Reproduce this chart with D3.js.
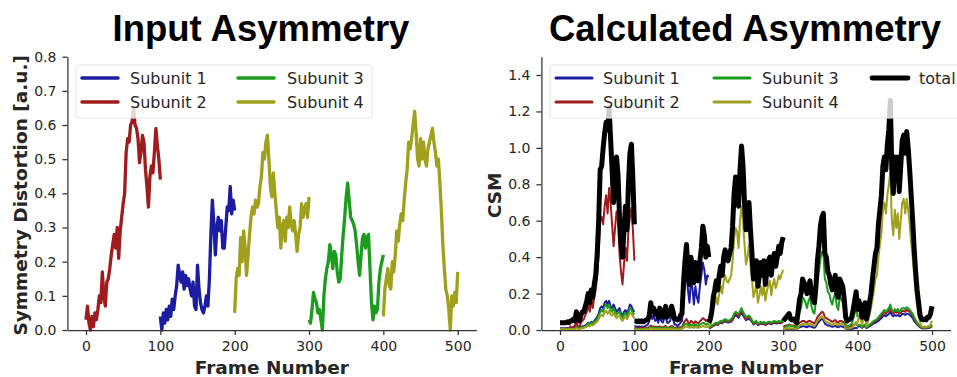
<!DOCTYPE html>
<html><head><meta charset="utf-8">
<script src="https://cdn.jsdelivr.net/npm/d3@7"></script>
<style>body{margin:0;background:#fff}svg{display:block}</style>
</head><body>
<svg id="c" width="957" height="377"></svg>
<script>
// ---------- DATA ----------
const frameStep = 2;            // frames between samples
const segmentStarts = [0, 100, 200, 300, 400];
const xTicks = [0, 100, 200, 300, 400, 500];
const yTicksInput = [0, 0.1, 0.2, 0.3, 0.4, 0.5, 0.6, 0.7, 0.8];
const yTicksCSM = [0, 0.2, 0.4, 0.6, 0.8, 1.0, 1.2, 1.4];
const seriesNames = ["Subunit 1", "Subunit 2", "Subunit 3", "Subunit 4", "total"];

// Input asymmetry (left panel)
const inputSub2 = [0.03,0.07,0.02,0.0,0.04,0.01,0.05,0.03,0.06,0.1, 0.08,0.17,0.1,0.07,0.14,0.15,0.18,0.22,0.25,0.28, 0.24,0.3,0.21,0.29,0.33,0.37,0.4,0.52,0.56,0.55, 0.6,0.61,0.65,0.6,0.59,0.56,0.49,0.52,0.57,0.55, 0.47,0.42,0.36,0.45,0.48,0.46,0.52,0.59,0.54,0.5, 0.44]; // frames 0-100
const inputSub1 = [0.04,0.0,0.05,0.02,0.06,0.03,0.07,0.04,0.09,0.06, 0.1,0.13,0.19,0.16,0.14,0.17,0.12,0.16,0.13,0.15, 0.12,0.1,0.14,0.07,0.06,0.19,0.12,0.08,0.06,0.05, 0.07,0.1,0.07,0.15,0.28,0.38,0.31,0.22,0.3,0.33, 0.29,0.32,0.24,0.24,0.3,0.36,0.35,0.42,0.34,0.38, 0.35]; // frames 100-200
const inputSub4a = [0.05,0.15,0.18,0.16,0.27,0.2,0.29,0.24,0.16,0.22, 0.28,0.33,0.36,0.34,0.38,0.36,0.37,0.42,0.45,0.52, 0.5,0.55,0.57,0.5,0.42,0.39,0.46,0.4,0.35,0.3, 0.33,0.24,0.3,0.32,0.26,0.33,0.3,0.36,0.31,0.29, 0.32,0.28,0.23,0.28,0.3,0.37,0.33,0.35,0.37,0.33, 0.39]; // frames 200-300
const inputSub3 = [0.03,0.02,0.06,0.11,0.09,0.08,0.05,0.06,0.03,0.0, 0.1,0.15,0.18,0.2,0.25,0.22,0.18,0.23,0.22,0.17, 0.14,0.15,0.22,0.28,0.33,0.39,0.43,0.38,0.33,0.32, 0.31,0.29,0.25,0.2,0.16,0.22,0.27,0.28,0.24,0.27, 0.28,0.18,0.08,0.03,0.07,0.05,0.06,0.14,0.18,0.2, 0.22]; // frames 300-400
const inputSub4b = [0.04,0.12,0.15,0.18,0.13,0.12,0.2,0.17,0.22,0.29, 0.26,0.31,0.34,0.32,0.38,0.43,0.47,0.55,0.53,0.56, 0.6,0.64,0.58,0.5,0.48,0.56,0.5,0.55,0.5,0.48, 0.53,0.55,0.57,0.59,0.55,0.52,0.48,0.5,0.43,0.35, 0.25,0.18,0.12,0.1,0.06,0.0,0.1,0.07,0.11,0.08, 0.17]; // frames 400-500

// Calculated asymmetry CSM (right panel): one list per 100-frame segment
const csmSub1 = [
 [0.01,0.01,0.01,0.01,0.01,0.01,0.01,0.01,0.01,0.01, 0.01,0.02,0.01,0.01,0.015,0.02,0.02,0.025,0.03,0.04, 0.03,0.045,0.04,0.05,0.06,0.07,0.09,0.12,0.13,0.12, 0.15,0.16,0.14,0.16,0.13,0.12,0.14,0.12,0.1,0.11, 0.12,0.09,0.08,0.1,0.11,0.09,0.11,0.14,0.13,0.11, 0.1],
 [0.02,0.02,0.015,0.02,0.015,0.02,0.015,0.02,0.025,0.03, 0.05,0.1,0.06,0.08,0.05,0.06,0.04,0.08,0.05,0.04, 0.06,0.08,0.04,0.04,0.05,0.08,0.06,0.03,0.03,0.02, 0.03,0.04,0.05,0.17,0.26,0.31,0.22,0.15,0.27,0.23, 0.14,0.24,0.18,0.15,0.24,0.3,0.37,0.33,0.25,0.3, 0.29],
 [0.008,0.012,0.017,0.022,0.027,0.031,0.027,0.036,0.04,0.036, 0.045,0.045,0.045,0.04,0.045,0.045,0.054,0.072,0.081,0.076, 0.067,0.085,0.09,0.081,0.067,0.054,0.058,0.063,0.054,0.045, 0.031,0.036,0.04,0.027,0.031,0.036,0.031,0.036,0.027,0.031, 0.036,0.036,0.031,0.036,0.04,0.036,0.036,0.04,0.036,0.04, 0.045],
 [0.005,0.005,0.005,0.005,0.008,0.005,0.005,0.005,0.005,0.005, 0.01,0.015,0.018,0.02,0.02,0.018,0.015,0.02,0.02,0.018, 0.015,0.012,0.02,0.035,0.045,0.055,0.06,0.055,0.035,0.03, 0.025,0.025,0.02,0.018,0.02,0.022,0.018,0.015,0.02,0.02, 0.018,0.015,0.008,0.005,0.005,0.006,0.006,0.008,0.01,0.012, 0.008],
 [0.015,0.022,0.018,0.012,0.018,0.022,0.01,0.015,0.02,0.025, 0.033,0.037,0.04,0.045,0.05,0.058,0.066,0.075,0.082,0.075, 0.082,0.088,0.1,0.082,0.075,0.082,0.078,0.082,0.075,0.078, 0.088,0.088,0.082,0.09,0.088,0.082,0.075,0.066,0.05,0.04, 0.03,0.022,0.015,0.011,0.008,0.011,0.008,0.011,0.011,0.015, 0.022]
];
const csmSub2 = [
 [0.005,0.005,0.005,0.005,0.005,0.01,0.005,0.02,0.01,0.02, 0.02,0.06,0.02,0.01,0.04,0.05,0.06,0.08,0.1,0.14, 0.1,0.16,0.12,0.18,0.22,0.3,0.42,0.6,0.62,0.58, 0.68,0.74,0.64,0.78,0.7,0.58,0.46,0.56,0.65,0.6, 0.42,0.32,0.25,0.36,0.45,0.38,0.55,0.62,0.67,0.55, 0.38],
 [0.01,0.01,0.01,0.01,0.01,0.01,0.01,0.01,0.01,0.012, 0.015,0.025,0.018,0.02,0.015,0.018,0.013,0.02,0.015,0.013, 0.018,0.022,0.013,0.014,0.016,0.022,0.018,0.012,0.012,0.01, 0.012,0.015,0.016,0.035,0.05,0.06,0.045,0.035,0.05,0.045, 0.035,0.048,0.04,0.036,0.048,0.055,0.065,0.06,0.05,0.056, 0.05],
 [0.01,0.015,0.02,0.025,0.03,0.035,0.03,0.04,0.045,0.04, 0.05,0.05,0.05,0.045,0.05,0.05,0.06,0.08,0.09,0.085, 0.075,0.095,0.1,0.09,0.075,0.06,0.065,0.07,0.06,0.05, 0.035,0.04,0.045,0.03,0.035,0.04,0.035,0.04,0.03,0.035, 0.04,0.04,0.035,0.04,0.045,0.04,0.04,0.045,0.04,0.045, 0.05],
 [0.02,0.02,0.025,0.025,0.03,0.025,0.025,0.025,0.02,0.02, 0.03,0.04,0.045,0.05,0.05,0.045,0.04,0.05,0.05,0.045, 0.04,0.035,0.05,0.07,0.08,0.09,0.1,0.095,0.07,0.065, 0.06,0.055,0.05,0.045,0.05,0.055,0.045,0.04,0.05,0.05, 0.045,0.04,0.02,0.015,0.015,0.02,0.02,0.025,0.03,0.035, 0.025],
 [0.02,0.028,0.022,0.014,0.022,0.028,0.012,0.018,0.026,0.03, 0.04,0.045,0.05,0.055,0.062,0.07,0.08,0.09,0.1,0.09, 0.1,0.105,0.12,0.1,0.09,0.1,0.095,0.1,0.09,0.095, 0.105,0.105,0.1,0.11,0.105,0.1,0.09,0.08,0.06,0.05, 0.035,0.026,0.018,0.013,0.01,0.013,0.01,0.013,0.013,0.018, 0.026]
];
const csmSub3 = [
 [0.005,0.005,0.005,0.005,0.005,0.005,0.005,0.005,0.005,0.005, 0.005,0.015,0.008,0.008,0.012,0.015,0.015,0.02,0.025,0.035, 0.025,0.04,0.035,0.045,0.05,0.06,0.08,0.1,0.11,0.1, 0.13,0.14,0.12,0.14,0.11,0.1,0.12,0.1,0.085,0.095, 0.1,0.075,0.065,0.085,0.095,0.075,0.095,0.12,0.11,0.095, 0.085],
 [0.006,0.006,0.006,0.006,0.006,0.006,0.006,0.006,0.007,0.008, 0.01,0.016,0.012,0.013,0.01,0.012,0.009,0.013,0.01,0.009, 0.012,0.014,0.009,0.01,0.011,0.014,0.012,0.008,0.008,0.007, 0.008,0.01,0.011,0.022,0.03,0.036,0.028,0.022,0.03,0.028, 0.022,0.03,0.025,0.022,0.03,0.034,0.04,0.037,0.03,0.034, 0.03],
 [0.01,0.015,0.025,0.03,0.035,0.04,0.035,0.045,0.05,0.045, 0.055,0.06,0.055,0.05,0.055,0.06,0.07,0.09,0.1,0.095, 0.085,0.105,0.12,0.1,0.085,0.07,0.075,0.08,0.07,0.055, 0.04,0.045,0.05,0.035,0.04,0.045,0.04,0.045,0.035,0.04, 0.045,0.045,0.04,0.045,0.05,0.045,0.045,0.05,0.045,0.05, 0.055],
 [0.01,0.01,0.02,0.02,0.03,0.02,0.02,0.02,0.01,0.01, 0.05,0.1,0.12,0.18,0.17,0.15,0.12,0.16,0.18,0.13, 0.1,0.09,0.16,0.26,0.32,0.39,0.43,0.42,0.28,0.26, 0.21,0.2,0.16,0.14,0.18,0.2,0.13,0.11,0.18,0.17, 0.15,0.1,0.03,0.02,0.02,0.03,0.03,0.06,0.09,0.13, 0.07],
 [0.02,0.03,0.025,0.015,0.025,0.03,0.012,0.02,0.03,0.035, 0.045,0.05,0.055,0.06,0.07,0.08,0.09,0.1,0.11,0.1, 0.11,0.12,0.14,0.11,0.1,0.115,0.105,0.115,0.1,0.11, 0.12,0.12,0.115,0.125,0.12,0.11,0.1,0.09,0.07,0.055, 0.04,0.03,0.02,0.015,0.012,0.015,0.012,0.015,0.015,0.02, 0.03]
];
const csmSub4 = [
 [0.004,0.004,0.004,0.004,0.004,0.004,0.004,0.004,0.004,0.004, 0.004,0.01,0.006,0.006,0.008,0.01,0.01,0.015,0.018,0.025, 0.02,0.03,0.025,0.032,0.04,0.045,0.06,0.075,0.085,0.075, 0.1,0.105,0.09,0.105,0.085,0.08,0.095,0.08,0.065,0.075, 0.08,0.06,0.05,0.065,0.075,0.06,0.075,0.095,0.09,0.075, 0.065],
 [0.003,0.003,0.003,0.003,0.003,0.003,0.003,0.003,0.004,0.004, 0.005,0.008,0.006,0.007,0.005,0.006,0.005,0.007,0.005,0.005, 0.006,0.007,0.005,0.005,0.006,0.007,0.006,0.004,0.004,0.004, 0.004,0.005,0.006,0.012,0.016,0.02,0.015,0.012,0.016,0.015, 0.012,0.016,0.014,0.012,0.016,0.018,0.022,0.02,0.016,0.019, 0.018],
 [0.02,0.03,0.06,0.12,0.14,0.18,0.14,0.2,0.24,0.2, 0.27,0.3,0.27,0.26,0.28,0.3,0.38,0.5,0.56,0.54, 0.45,0.6,0.68,0.6,0.47,0.36,0.4,0.47,0.36,0.28, 0.18,0.21,0.25,0.15,0.19,0.24,0.19,0.25,0.16,0.21, 0.25,0.27,0.19,0.25,0.28,0.23,0.26,0.3,0.28,0.31, 0.33],
 [0.005,0.005,0.008,0.008,0.01,0.008,0.008,0.008,0.005,0.005, 0.015,0.025,0.028,0.035,0.035,0.03,0.028,0.035,0.035,0.03, 0.025,0.022,0.035,0.05,0.06,0.07,0.075,0.07,0.05,0.045, 0.04,0.038,0.032,0.028,0.035,0.038,0.03,0.025,0.035,0.035, 0.03,0.025,0.01,0.008,0.008,0.01,0.012,0.02,0.03,0.045, 0.025],
 [0.04,0.08,0.06,0.03,0.06,0.08,0.02,0.05,0.08,0.12, 0.17,0.22,0.28,0.3,0.4,0.47,0.53,0.66,0.7,0.64, 0.74,0.8,0.87,0.6,0.52,0.66,0.56,0.64,0.5,0.6, 0.7,0.72,0.64,0.72,0.66,0.58,0.48,0.4,0.3,0.2, 0.13,0.08,0.04,0.02,0.015,0.02,0.015,0.02,0.02,0.03, 0.05]
];
const csmTotal = [
 [0.04,0.04,0.04,0.04,0.04,0.045,0.04,0.05,0.05,0.06, 0.05,0.1,0.06,0.05,0.08,0.1,0.1,0.13,0.16,0.2, 0.15,0.22,0.18,0.25,0.3,0.42,0.6,0.88,0.9,1.0, 1.08,1.14,1.1,1.22,1.05,0.88,0.7,0.8,0.95,0.85, 0.62,0.47,0.4,0.55,0.68,0.55,0.8,0.97,1.02,0.82, 0.58],
 [0.05,0.05,0.045,0.05,0.045,0.05,0.045,0.05,0.055,0.06, 0.08,0.15,0.1,0.12,0.09,0.1,0.07,0.12,0.09,0.07, 0.1,0.13,0.07,0.08,0.09,0.13,0.1,0.06,0.06,0.055, 0.06,0.08,0.09,0.26,0.38,0.47,0.33,0.25,0.4,0.35, 0.26,0.37,0.3,0.27,0.38,0.45,0.57,0.52,0.4,0.46, 0.4],
 [0.04,0.06,0.1,0.18,0.22,0.27,0.22,0.3,0.35,0.3, 0.4,0.44,0.4,0.38,0.42,0.45,0.57,0.75,0.84,0.8, 0.68,0.88,1.01,0.9,0.7,0.55,0.6,0.7,0.55,0.42, 0.28,0.32,0.38,0.24,0.3,0.37,0.3,0.38,0.25,0.32, 0.38,0.4,0.3,0.38,0.42,0.35,0.4,0.46,0.42,0.48, 0.51],
 [0.05,0.06,0.07,0.08,0.09,0.06,0.055,0.06,0.05,0.04, 0.1,0.17,0.2,0.28,0.26,0.23,0.2,0.24,0.27,0.2, 0.17,0.15,0.24,0.38,0.46,0.57,0.62,0.64,0.42,0.4, 0.32,0.3,0.25,0.22,0.27,0.3,0.2,0.18,0.28,0.26, 0.24,0.17,0.07,0.05,0.055,0.06,0.07,0.11,0.16,0.21, 0.12],
 [0.1,0.16,0.12,0.07,0.12,0.15,0.06,0.1,0.15,0.2, 0.28,0.35,0.42,0.45,0.58,0.66,0.74,0.9,0.95,0.88, 1.02,1.1,1.26,0.88,0.75,0.95,0.82,0.95,0.76,0.9, 1.04,1.07,0.97,1.09,1.0,0.88,0.74,0.6,0.45,0.32, 0.22,0.15,0.08,0.06,0.055,0.06,0.055,0.07,0.07,0.09, 0.13]
];

// ---------- DRAWING ----------
const colors = {"Subunit 1":"#1c1ca0","Subunit 2":"#a01c1c","Subunit 3":"#1c9c1c","Subunit 4":"#a0a01c","total":"#000000"};
const svg = d3.select("#c");
const textCol = "#262626", spineCol = "#333333";
const toPts = (vals, start) => vals.map((v, i) => [start + i * frameStep, v]);

function makeAxes(g, x, y, yTicks, title, titleX, ylabel, ylabelX) {
  const xa = g.append("g").attr("transform", `translate(0,${y.range()[0]})`)
    .call(d3.axisBottom(x).tickValues(xTicks).tickFormat(d3.format("d")).tickSize(5).tickSizeOuter(0).tickPadding(6));
  const ya = g.append("g").attr("transform", `translate(${x.range()[0]},0)`)
    .call(d3.axisLeft(y).tickValues(yTicks).tickFormat(d3.format(".1f")).tickSize(5).tickSizeOuter(0).tickPadding(6));
  [xa, ya].forEach(a => {
    a.select(".domain").attr("stroke", spineCol).attr("stroke-width", 1.25);
    a.selectAll(".tick line").attr("stroke", spineCol).attr("stroke-width", 1.25);
    a.selectAll(".tick text").attr("fill", textCol).style("font-family", "DejaVu Sans").style("font-size", "14px");
  });
  const cx = (x.range()[0] + x.range()[1]) / 2;
  g.append("text").attr("x", titleX).attr("y", 41).attr("text-anchor", "middle")
    .style("font-family", "Liberation Sans, Arial, sans-serif").style("font-weight", "bold").style("font-size", "36.5px")
    .attr("fill", "#000").text(title);
  g.append("text").attr("x", cx).attr("y", 374).attr("text-anchor", "middle")
    .style("font-family", "DejaVu Sans").style("font-weight", "bold").style("font-size", "18.5px")
    .attr("fill", textCol).text("Frame Number");
  const ym = (y.range()[0] + y.range()[1]) / 2 + 2;
  g.append("text").attr("transform", `translate(${ylabelX},${ym}) rotate(-90)`).attr("text-anchor", "middle")
    .style("font-family", "DejaVu Sans").style("font-weight", "bold").style("font-size", "18.5px")
    .attr("fill", textCol).text(ylabel);
}

function drawLegend(g, box, items) {
  g.append("rect").attr("x", box.x).attr("y", box.y).attr("width", box.w).attr("height", box.h)
    .attr("rx", 3).attr("fill", "#fff").attr("fill-opacity", 0.8).attr("stroke", "#e6e6e6").attr("stroke-width", 1);
  items.forEach(it => {
    g.append("line").attr("x1", it.lx).attr("x2", it.lx + 36).attr("y1", it.y).attr("y2", it.y)
      .attr("stroke", colors[it.name]).attr("stroke-width", it.w).attr("stroke-linecap", "round");
    g.append("text").attr("x", it.tx).attr("y", it.y).attr("dy", "0.36em")
      .style("font-family", "DejaVu Sans").style("font-size", "16px").attr("fill", textCol).text(it.name);
  });
}

// Left panel
{
  const g = svg.append("g");
  const x = d3.scaleLinear().domain([-25, 525]).range([67.4, 476.3]);
  const y = d3.scaleLinear().domain([0, 0.8]).range([330, 56.7]);
  const line = d3.line().x(d => x(d[0])).y(d => y(d[1]));
  const segs = [
    {name: "Subunit 2", vals: inputSub2, start: segmentStarts[0]},
    {name: "Subunit 1", vals: inputSub1, start: segmentStarts[1]},
    {name: "Subunit 4", vals: inputSub4a, start: segmentStarts[2]},
    {name: "Subunit 3", vals: inputSub3, start: segmentStarts[3]},
    {name: "Subunit 4", vals: inputSub4b, start: segmentStarts[4]}
  ];
  segs.forEach(s => g.append("path").attr("d", line(toPts(s.vals, s.start))).attr("fill", "none")
    .attr("stroke", colors[s.name]).attr("stroke-width", 3.3).attr("stroke-linejoin", "round"));
  makeAxes(g, x, y, yTicksInput, "Input Asymmetry", 261, "Symmetry Distortion [a.u.]", 27);
  drawLegend(g, {x: 76, y: 65, w: 296, h: 53}, [
    {name: "Subunit 1", lx: 82, tx: 130, y: 78, w: 3.5},
    {name: "Subunit 2", lx: 82, tx: 130, y: 102, w: 3.5},
    {name: "Subunit 3", lx: 238, tx: 287, y: 78, w: 3.5},
    {name: "Subunit 4", lx: 238, tx: 287, y: 102, w: 3.5}
  ]);
}

// Right panel
{
  const g = svg.append("g");
  const x = d3.scaleLinear().domain([-25, 525]).range([541.4, 950.6]);
  const y = d3.scaleLinear().domain([0, 1.5]).range([330, 56.8]);
  const line = d3.line().x(d => x(d[0])).y(d => y(d[1]));
  const all = [["Subunit 1", csmSub1, 2], ["Subunit 2", csmSub2, 2], ["Subunit 3", csmSub3, 2], ["Subunit 4", csmSub4, 2], ["total", csmTotal, 5]];
  all.forEach(([name, segs, w]) => segs.forEach((vals, k) =>
    g.append("path").attr("d", line(toPts(vals, segmentStarts[k]))).attr("fill", "none")
      .attr("stroke", colors[name]).attr("stroke-width", w).attr("stroke-linejoin", "round")));
  makeAxes(g, x, y, yTicksCSM, "Calculated Asymmetry", 745, "CSM", 501);
  drawLegend(g, {x: 550, y: 65, w: 420, h: 53}, [
    {name: "Subunit 1", lx: 556, tx: 603, y: 78, w: 3},
    {name: "Subunit 2", lx: 556, tx: 603, y: 102, w: 3},
    {name: "Subunit 3", lx: 714, tx: 762, y: 78, w: 3},
    {name: "Subunit 4", lx: 714, tx: 762, y: 102, w: 3},
    {name: "total", lx: 872, tx: 919, y: 78, w: 4.8}
  ]);
}
</script>
</body></html>
